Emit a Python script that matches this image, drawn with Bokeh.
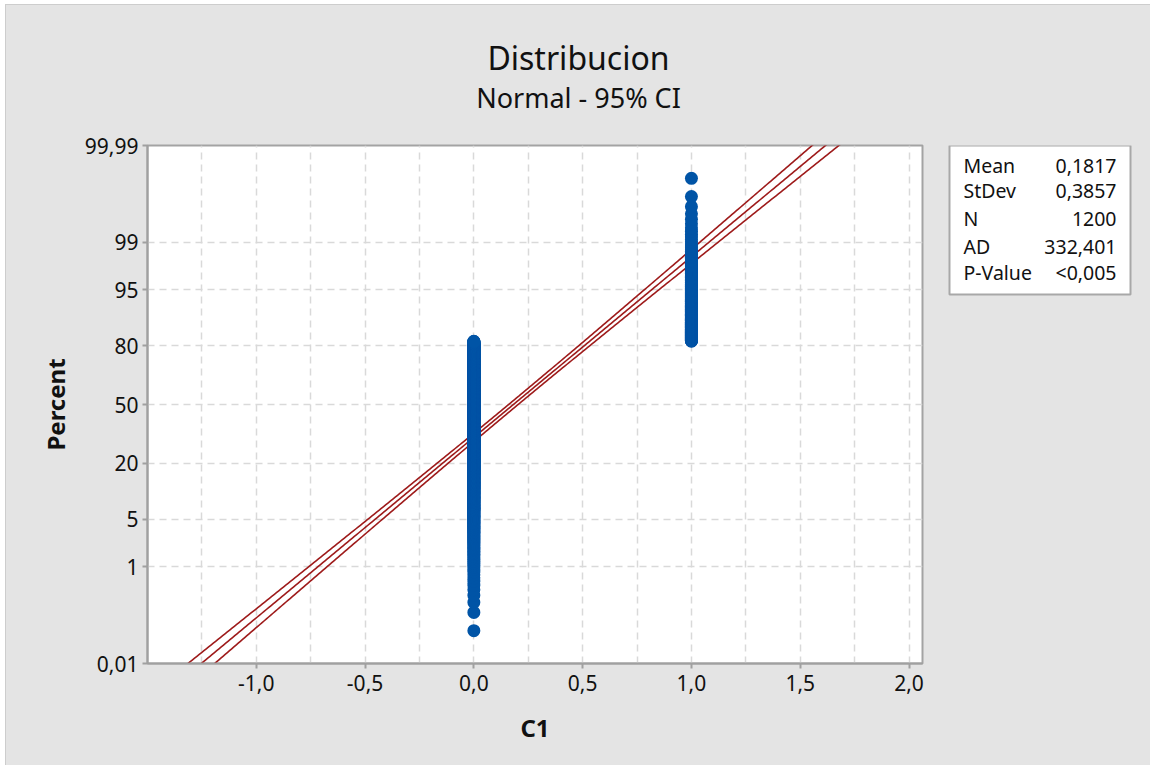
from statistics import NormalDist

import numpy as np
from bokeh.core.properties import value
from bokeh.embed import file_html
from bokeh.layouts import column, row
from bokeh.models import ColumnDataSource, CustomJSTickFormatter, FixedTicker, Range1d
from bokeh.plotting import figure
from bokeh.resources import INLINE

# C1 sample: distinct values and how often each occurs
c1_values = [0, 1]
c1_counts = [982, 218]

# Summary statistics of the normal fit
mean = 0.1817
stdev = 0.3857
n_obs = 1200
stat_names = ["Mean", "StDev", "N", "AD", "P-Value"]
stat_texts = ["0,1817", "0,3857", "1200", "332,401", "<0,005"]

# Axis ticks
pct_ticks = [0.01, 1, 5, 20, 50, 80, 95, 99, 99.99]
pct_labels = ["0,01", "1", "5", "20", "50", "80", "95", "99", "99,99"]
x_ticks = [-1.0, -0.5, 0.0, 0.5, 1.0, 1.5, 2.0]
x_labels = ["-1,0", "-0,5", "0,0", "0,5", "1,0", "1,5", "2,0"]
x_grid = [-1.25, -1.0, -0.75, -0.5, -0.25, 0.0, 0.25, 0.5, 0.75, 1.0, 1.25, 1.5, 1.75, 2.0]

FONT = "Noto Sans"
PANEL = "#e4e4e4"
INK = "#111111"
nd = NormalDist()

# Probability scale: percents are plotted as standard normal quantiles
z_ticks = [nd.inv_cdf(v / 100.0) for v in pct_ticks]
z_lo, z_hi = z_ticks[0], z_ticks[-1]

# Ordered observations with median-rank plotting positions
obs = np.sort(np.repeat(c1_values, c1_counts)).astype(float)
ranks = np.arange(1, len(obs) + 1)
probs = (ranks - 0.3) / (len(obs) + 0.4)
obs_z = np.array([nd.inv_cdf(p) for p in probs])
pts = ColumnDataSource(dict(x=obs, z=obs_z))

# Fitted normal line with 95% confidence band for the percentiles
zz = np.linspace(z_lo - 0.3, z_hi + 0.3, 300)
fit_x = mean + zz * stdev
se = stdev * np.sqrt(1.0 / n_obs + zz ** 2 / (2.0 * (n_obs - 1)))
band_lo = fit_x - 1.96 * se
band_hi = fit_x + 1.96 * se


def text_panel(width, height, x_range, y_range, **kw):
    """A bare canvas without axes; its data units are pixels from the top-left of the frame."""
    return figure(width=width, height=height, x_range=x_range, y_range=y_range,
                  x_axis_type=None, y_axis_type=None, output_backend="svg",
                  toolbar_location=None, background_fill_color=PANEL,
                  border_fill_color=PANEL, outline_line_color=None, **kw)


# ---- title strip ----
head = text_panel(1144, 120, Range1d(0, 1144), Range1d(120, 0), min_border=0)
head.text(x=[572], y=[52], text=["Distribucion"], text_align="center", text_baseline="middle",
          text_font=value(FONT), text_font_size="32px", text_color=INK)
head.text(x=[572], y=[92], text=["Normal - 95% CI"], text_align="center", text_baseline="middle",
          text_font=value(FONT), text_font_size="27px", text_color=INK)

# ---- probability plot ----
p = figure(
    width=940, height=640,
    x_range=Range1d(-1.5, 2.062), y_range=Range1d(z_lo, z_hi),
    output_backend="svg", toolbar_location=None,
    min_border_left=141, min_border_right=24,
    min_border_top=20, min_border_bottom=102,
    background_fill_color="white", border_fill_color=PANEL,
    outline_line_color="#a3a3a3", outline_line_width=2,
)

p.xgrid.ticker = FixedTicker(ticks=x_grid)
p.ygrid.ticker = FixedTicker(ticks=z_ticks[1:-1])
for g in (p.xgrid, p.ygrid):
    g.grid_line_color = "#d9d9d9"
    g.grid_line_width = 1.5
    g.grid_line_dash = "7 5"

p.xaxis.ticker = FixedTicker(ticks=x_ticks)
p.xaxis.formatter = CustomJSTickFormatter(args=dict(labels=x_labels), code="return labels[index];")
p.yaxis.ticker = FixedTicker(ticks=z_ticks)
p.yaxis.formatter = CustomJSTickFormatter(args=dict(labels=pct_labels), code="return labels[index];")
p.xaxis.axis_label = "C1"
p.yaxis.axis_label = "Percent"
for ax in (p.xaxis, p.yaxis):
    ax.axis_line_color = "#a0a0a0"
    ax.axis_line_width = 2
    ax.major_tick_line_color = "#a0a0a0"
    ax.major_tick_line_width = 2
    ax.major_tick_in = 0
    ax.major_tick_out = 5
    ax.minor_tick_line_color = None
    ax.major_label_text_font = FONT
    ax.major_label_text_font_size = "21px"
    ax.major_label_text_color = INK
    ax.axis_label_text_font = FONT
    ax.axis_label_text_font_size = "24px"
    ax.axis_label_text_font_style = "bold"
    ax.axis_label_text_color = INK
p.xaxis.major_label_standoff = 6
p.xaxis.axis_label_standoff = 17
p.yaxis.major_label_standoff = 4
p.yaxis.axis_label_standoff = 10

line_color = "#9e1b1b"
p.line(fit_x, zz, line_color=line_color, line_width=1.6)
p.line(band_lo, zz, line_color=line_color, line_width=1.6)
p.line(band_hi, zz, line_color=line_color, line_width=1.6)

p.scatter("x", "z", source=pts, size=13, fill_color="#0054a6", line_color=None)

# ---- statistics box (same vertical borders as the plot, so frames line up) ----
stats = text_panel(204, 640, Range1d(-2, 183), Range1d(518, 0),
                   min_border_left=1, min_border_right=18,
                   min_border_top=20, min_border_bottom=102)
stats.quad(left=[0], right=[181], top=[0], bottom=[149], fill_color="white",
           line_color="#a8a8a8", line_width=2)
row_y = [20, 45, 73, 101, 127]
stats.text(x=[14] * len(stat_names), y=row_y, text=stat_names, text_align="left",
           text_baseline="middle", text_font=value(FONT), text_font_size="19.5px", text_color=INK)
stats.text(x=[167] * len(stat_texts), y=row_y, text=stat_texts, text_align="right",
           text_baseline="middle", text_font=value(FONT), text_font_size="19.5px", text_color=INK)

body = row(p, stats)
body.styles = {"background-color": PANEL}
page = column(head, body)
page.margin = (4, 0, 0, 5)
page.styles = {"background-color": PANEL,
               "border-top": "1px solid #cdcdcd", "border-left": "1px solid #cdcdcd"}

open("out.html", "w").write(file_html(page, INLINE))
